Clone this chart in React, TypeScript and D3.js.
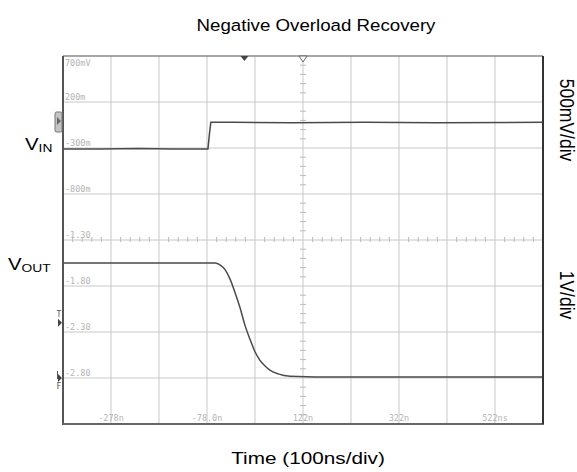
import React, { useEffect, useRef } from 'react';
import * as d3 from 'd3';

// time axis (ns), 100ns/div, 10 divisions
const timeDomain = [-378, 622];
const timeTicks = [-278, -78, 122, 322, 522];
const timeTickLabels = ['-278n', '-78.0n', '122n', '322n', '522ns'];

// scope's own vertical labels (V), 500mV/div, 8 divisions
const voltDomain = [0.7, -3.3];
const voltTicks = [0.7, 0.2, -0.3, -0.8, -1.3, -1.8, -2.3, -2.8];
const voltTickLabels = ['700mV', '200m', '-300m', '-800m', '-1.30', '-1.80', '-2.30', '-2.80'];

// VIN trace on the 500mV/div scale
const vinTime = [-378, -300, -220, -150, -76, -73, -70, -20, 100, 250, 400, 622];
const vinVolts = [-0.31, -0.31, -0.305, -0.31, -0.31, -0.15, -0.02, -0.02, -0.025, -0.02, -0.025, -0.02];

// VOUT trace, 1V/div, zero at the "F" marker
const voutDomain = [7, -1];
const voutTime = [-378, -200, -61, -51, -40, -30, -20, -9, 1, 12, 22, 32, 43, 53, 70, 95, 200, 400, 622];
const voutVolts = [2.5, 2.5, 2.5, 2.46, 2.35, 2.15, 1.87, 1.52, 1.15, 0.83, 0.57, 0.39, 0.26, 0.17, 0.09, 0.04, 0.02, 0.02, 0.02];

const App: React.FC = () => {
  const ref = useRef<SVGSVGElement>(null);

  useEffect(() => {
    if (!ref.current) return;
    const svg = d3.select(ref.current);
    svg.selectAll('*').remove();

    const left = 63, right = 543, top = 56, bottom = 424;
    const x = d3.scaleLinear().domain(timeDomain).range([left, right]);
    const y = d3.scaleLinear().domain(voltDomain).range([top, bottom]);
    const yOut = d3.scaleLinear().domain(voutDomain).range([top, bottom]);

    const font = 'Arial, "Liberation Sans", sans-serif';
    const mono = '"DejaVu Sans Mono", monospace';

    svg.append('rect').attr('width', 577).attr('height', 472).attr('fill', '#fff');

    // grid
    const g = svg.append('g');
    const xDivs = d3.range(timeDomain[0], timeDomain[1] + 1, 100);
    g.selectAll('.vx').data(xDivs.slice(1, -1)).enter().append('line')
      .attr('x1', d => x(d)).attr('x2', d => x(d))
      .attr('y1', top).attr('y2', bottom)
      .attr('stroke', '#c8c8c8').attr('stroke-width', 1);
    const yDivs = d3.range(0, 9).map(i => voltDomain[0] - i * 0.5);
    g.selectAll('.hy').data(yDivs.slice(1, -1)).enter().append('line')
      .attr('x1', left).attr('x2', right)
      .attr('y1', d => y(d)).attr('y2', d => y(d))
      .attr('stroke', '#c8c8c8').attr('stroke-width', 1);

    // minor ticks on the centre axes
    const cx = x(122), cy = y(-1.3);
    const minorX = d3.range(timeDomain[0], timeDomain[1], 20).filter(t => (t - timeDomain[0]) % 100 !== 0);
    g.selectAll('.mx').data(minorX).enter().append('line')
      .attr('x1', d => x(d)).attr('x2', d => x(d))
      .attr('y1', cy - 3).attr('y2', cy + 2)
      .attr('stroke', '#bbb');
    const minorY = d3.range(0, 40).filter(i => i % 5 !== 0).map(i => voltDomain[0] - i * 0.1);
    g.selectAll('.my').data(minorY).enter().append('line')
      .attr('x1', cx - 3).attr('x2', cx + 3)
      .attr('y1', d => y(d)).attr('y2', d => y(d))
      .attr('stroke', '#bbb');

    // tick labels inside the screen
    g.selectAll('.yl').data(voltTicks).enter().append('text')
      .attr('x', left + 2)
      .attr('y', (d, i) => (i === 0 ? y(d) + 10 : y(d) - 2.5))
      .attr('fill', '#b4b4b4')
      .style('font-family', mono).style('font-size', '8.5px')
      .text((d, i) => voltTickLabels[i]);
    g.selectAll('.xl').data(timeTicks).enter().append('text')
      .attr('x', d => x(d)).attr('y', bottom - 3)
      .attr('text-anchor', 'middle')
      .attr('fill', '#b4b4b4')
      .style('font-family', mono).style('font-size', '8.5px')
      .text((d, i) => timeTickLabels[i]);

    // traces
    const lineIn = d3.line<number>().x((d, i) => x(vinTime[i])).y(d => y(d));
    svg.append('path').attr('d', lineIn(vinVolts) || '')
      .attr('fill', 'none').attr('stroke', '#4a4a4a').attr('stroke-width', 1.5);
    const lineOut = d3.line<number>().x((d, i) => x(voutTime[i])).y(d => yOut(d)).curve(d3.curveMonotoneX);
    svg.append('path').attr('d', lineOut(voutVolts) || '')
      .attr('fill', 'none').attr('stroke', '#4a4a4a').attr('stroke-width', 1.5);

    // frame
    svg.append('line').attr('x1', left).attr('x2', right).attr('y1', top).attr('y2', top)
      .attr('stroke', '#8a8a8a').attr('stroke-width', 1.5);
    svg.append('line').attr('x1', left).attr('x2', left).attr('y1', top).attr('y2', bottom + 1)
      .attr('stroke', '#555').attr('stroke-width', 2);
    svg.append('line').attr('x1', left).attr('x2', right + 1).attr('y1', bottom).attr('y2', bottom)
      .attr('stroke', '#666').attr('stroke-width', 2);
    svg.append('line').attr('x1', right).attr('x2', right).attr('y1', top).attr('y2', bottom)
      .attr('stroke', '#333').attr('stroke-width', 2);

    // top markers: trigger position and centre
    const tx = x(0);
    svg.append('path').attr('d', `M${tx - 4},${top} L${tx + 4},${top} L${tx},${top + 5} Z`).attr('fill', '#444');
    svg.append('path').attr('d', `M${cx - 4},${top} L${cx + 4},${top} L${cx},${top + 6} Z`)
      .attr('fill', '#fff').attr('stroke', '#666').attr('stroke-width', 1);

    // left channel markers
    svg.append('rect').attr('x', 55).attr('y', 112).attr('width', 7).attr('height', 20).attr('rx', 1.5)
      .attr('fill', '#c4c4c4').attr('stroke', '#777').attr('stroke-width', 1);
    svg.append('path').attr('d', 'M57,117 L61,121 L57,125 Z').attr('fill', '#666');
    svg.append('path').attr('d', `M58,${yOut(1.2) - 4} L62,${yOut(1.2)} L58,${yOut(1.2) + 4} Z`).attr('fill', '#444');
    svg.append('text').attr('x', 59).attr('y', yOut(1.2) - 6).attr('text-anchor', 'middle')
      .attr('fill', '#555').style('font-family', mono).style('font-size', '8px').text('T');
    svg.append('path').attr('d', `M58,${yOut(0) - 4} L62,${yOut(0)} L58,${yOut(0) + 4} Z`).attr('fill', '#444');
    svg.append('line').attr('x1', 57.5).attr('x2', 57.5).attr('y1', yOut(0) - 7).attr('y2', yOut(0) + 1)
      .attr('stroke', '#555');
    svg.append('text').attr('x', 59).attr('y', yOut(0) + 11).attr('text-anchor', 'middle')
      .attr('fill', '#555').style('font-family', mono).style('font-size', '8px').text('F');

    // titles and labels (the picture is slightly wider than tall, so text is stretched in x)
    svg.append('text').attr('transform', 'translate(316,31) scale(1.1,1)').attr('text-anchor', 'middle')
      .attr('fill', '#000').style('font-family', font).style('font-size', '17px')
      .text('Negative Overload Recovery');
    svg.append('text').attr('transform', 'translate(308,464) scale(1.22,1)').attr('text-anchor', 'middle')
      .attr('fill', '#000').style('font-family', font).style('font-size', '17px')
      .text('Time (100ns/div)');

    const vin = svg.append('text').attr('transform', 'translate(25,150) scale(1.2,1)')
      .attr('fill', '#000').style('font-family', font).style('font-size', '17px');
    vin.append('tspan').text('V');
    vin.append('tspan').attr('dy', 1.5).style('font-size', '11.5px').text('IN');
    const vout = svg.append('text').attr('transform', 'translate(8,270) scale(1.2,1)')
      .attr('fill', '#000').style('font-family', font).style('font-size', '17px');
    vout.append('tspan').text('V');
    vout.append('tspan').attr('dy', 1.5).style('font-size', '11.5px').text('OUT');

    svg.append('text').attr('transform', 'translate(560,120) rotate(90) scale(1,1.15)').attr('text-anchor', 'middle')
      .attr('fill', '#000').style('font-family', font).style('font-size', '17.5px').text('500mV/div');
    svg.append('text').attr('transform', 'translate(560,295) rotate(90) scale(1,1.15)').attr('text-anchor', 'middle')
      .attr('fill', '#000').style('font-family', font).style('font-size', '17.5px').text('1V/div');
  }, []);

  return (
    <svg ref={ref} width={577} height={472} style={{ position: 'absolute', left: 0, top: 0 }} />
  );
};

export default App;
